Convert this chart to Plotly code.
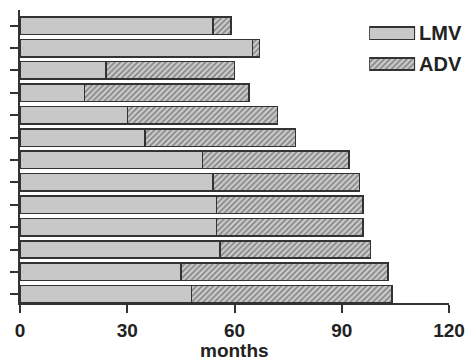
import plotly.graph_objects as go

# Follow-up per patient, top bar first (months)
lmv = [54, 65, 24, 18, 30, 35, 51, 54, 55, 55, 56, 45, 48]
total = [59, 67, 60, 64, 72, 77, 92, 95, 96, 96, 98, 103, 104]
adv = [t - l for t, l in zip(total, lmv)]
patients = list(range(len(lmv), 0, -1))

x_ticks = [0, 30, 60, 90, 120]
legend_labels = ["LMV", "ADV"]

LMV_FILL = "#c8c8c8"
HATCH_BG = "#cbcbcb"
EDGE = "#333333"
FONT = "Liberation Sans"

hatch = dict(shape="/", fgcolor="#3c3c3c", bgcolor=HATCH_BG, size=4, solidity=0.4)

fig = go.Figure()

fig.add_trace(go.Bar(
    y=patients, x=lmv, orientation="h", width=0.78, name="LMV",
    marker=dict(color=LMV_FILL, line=dict(color=EDGE, width=1.5)),
    showlegend=False,
))
fig.add_trace(go.Bar(
    y=patients, x=adv, base=lmv, orientation="h", width=0.78, name="ADV",
    marker=dict(color=HATCH_BG, pattern=hatch, line=dict(color=EDGE, width=1.5)),
    showlegend=False,
))

# Key swatches drawn on a small inset axis pair
fig.add_trace(go.Bar(
    y=[1], x=[1], orientation="h", width=0.4, xaxis="x2", yaxis="y2",
    marker=dict(color=LMV_FILL, line=dict(color=EDGE, width=1.5)),
    showlegend=False, hoverinfo="skip",
))
fig.add_trace(go.Bar(
    y=[0], x=[1], orientation="h", width=0.4, xaxis="x2", yaxis="y2",
    marker=dict(color=HATCH_BG, pattern=hatch, line=dict(color=EDGE, width=1.5)),
    showlegend=False, hoverinfo="skip",
))

fig.update_layout(
    width=467, height=361,
    margin=dict(l=20, r=18, t=10, b=58, autoexpand=False),
    barmode="stack",
    paper_bgcolor="white", plot_bgcolor="white",
    font=dict(family=FONT, color="#222222"),
    xaxis=dict(
        range=[0, 120], tickvals=x_ticks, ticks="outside", ticklen=8,
        tickwidth=2, tickcolor=EDGE, showline=True, linecolor=EDGE,
        linewidth=2, showgrid=False, zeroline=False, automargin=False,
        ticklabelstandoff=1,
        tickfont=dict(size=19, weight="bold", color="#222222"),
    ),
    yaxis=dict(
        range=[0.61, 13.7], tickvals=patients, ticktext=[""] * len(patients),
        ticks="outside", ticklen=8, tickwidth=2, tickcolor=EDGE,
        showline=True, linecolor=EDGE, linewidth=2, showgrid=False,
        zeroline=False, automargin=False,
    ),
    xaxis2=dict(
        domain=[0.814, 0.921], range=[0, 1], anchor="y2", visible=False,
        automargin=False,
    ),
    yaxis2=dict(
        domain=[0.763, 0.974], range=[-0.5, 1.5], anchor="x2", side="right",
        tickvals=[1, 0], ticktext=legend_labels, ticks="", showline=False,
        showgrid=False, zeroline=False, ticklabelstandoff=3, automargin=False,
        tickfont=dict(size=20, weight="bold", color="#222222"),
    ),
    annotations=[dict(
        text="months", xref="x", yref="paper", x=60, y=0,
        xanchor="center", yanchor="bottom", yshift=-59, borderpad=0,
        showarrow=False,
        font=dict(size=19, weight="bold", color="#222222"),
    )],
)

fig.write_html("out.html")
